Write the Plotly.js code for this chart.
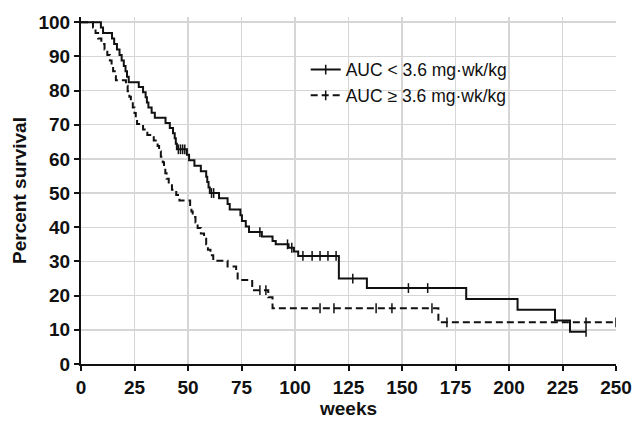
<!DOCTYPE html>
<html><head><meta charset="utf-8">
<script src="https://cdn.plot.ly/plotly-3.0.1.min.js"></script>
<style>html,body{margin:0;padding:0;background:#fff}#chart{width:644px;height:425px}</style>
</head><body><div id="chart"></div>
<script>
// Group 1: AUC < 3.6 mg·wk/kg (solid)
const lowTimes = [0, 9.3, 10.3, 14.5, 15.5, 16.8, 18, 19, 20, 20.8, 21.5, 22.3, 27, 29, 30.2, 30.8, 31.5, 33, 34.5, 39.5, 41.5, 43, 43.8, 44.3, 44.8, 49.5, 50.5, 53, 56, 58.5, 59, 59.6, 60.2, 64.5, 68.5, 69.5, 74.5, 75.2, 77, 78.5, 84.5, 89.5, 91, 97, 99.5, 101.5, 120.5, 133.6, 180, 204, 221.5, 228.5];
const lowSurv  = [100, 98.4, 96.8, 95.2, 93.6, 92.0, 90.4, 88.8, 87.2, 85.6, 84.0, 82.4, 81.0, 79.5, 78.0, 76.5, 75.0, 73.5, 72.0, 70.5, 69.0, 67.5, 66.0, 64.4, 62.8, 61.2, 59.6, 58.0, 56.4, 54.8, 53.2, 51.6, 50.0, 48.5, 46.8, 45.2, 43.5, 41.8, 40.2, 38.6, 37.3, 36.0, 35.0, 34.0, 32.9, 31.6, 25.0, 22.2, 19.0, 15.9, 12.7, 9.4];
const lowEnd = 236;
const lowCensor = [45.5, 46.5, 47.5, 48.5, 61, 62, 83.6, 96.5, 98.5, 103.7, 108, 111.7, 115.4, 119.2, 127, 153, 162, 236];

// Group 2: AUC ≥ 3.6 mg·wk/kg (dashed)
const highTimes = [0, 5.6, 6.8, 8, 9.5, 11, 12.3, 13.5, 14.3, 15, 15.8, 16.3, 21, 21.8, 22.6, 23.3, 24.2, 25, 25.6, 26.2, 29, 31, 34, 35.8, 36.5, 37.3, 38.2, 38.8, 39.4, 40, 41, 42.5, 44.5, 46, 51, 51.6, 52.2, 53.5, 54.5, 56, 57.5, 58.5, 59.3, 60.5, 61.8, 68.5, 72.5, 73.2, 80, 87.5, 89.5, 167];
const highSurv  = [100, 98.4, 96.8, 95.2, 93.6, 92.0, 90.4, 88.8, 87.2, 85.6, 84.2, 83.0, 81.4, 79.8, 78.2, 76.6, 75.0, 73.4, 71.8, 70.2, 68.6, 67.0, 65.4, 63.8, 62.2, 60.6, 59.0, 57.4, 55.8, 54.2, 52.6, 51.0, 49.4, 47.8, 46.2, 44.6, 43.0, 41.4, 39.8, 38.2, 36.6, 35.0, 33.4, 31.8, 30.2, 28.5, 26.8, 24.6, 21.6, 19.5, 16.3, 12.2];
const highEnd = 250;
const highCensor = [83.6, 86.4, 111.7, 118.2, 137.9, 145.3, 164, 171, 236, 250];

const groupNames = ['AUC < 3.6 mg\u00B7wk/kg', 'AUC \u2265 3.6 mg\u00B7wk/kg'];
const xTicks = [0, 25, 50, 75, 100, 125, 150, 175, 200, 225, 250];
const yTicks = [0, 10, 20, 30, 40, 50, 60, 70, 80, 90, 100];

function survAt(times, surv, t) {
  let s = surv[0];
  for (let i = 0; i < times.length; i++) { if (times[i] <= t) s = surv[i]; }
  return s;
}
function stepTrace(times, surv, end, dash) {
  return {
    x: times.concat([end]), y: surv.concat([surv[surv.length - 1]]),
    mode: 'lines', line: {shape: 'hv', color: '#111', width: 2, dash: dash},
    showlegend: false, hoverinfo: 'skip'
  };
}
const censorMarker = {symbol: 'line-ns', size: 7, color: '#111', line: {color: '#111', width: 1.5}};
function censorTrace(times, surv, cens) {
  return {
    x: cens, y: cens.map(t => survAt(times, surv, t)),
    mode: 'markers', showlegend: false, hoverinfo: 'skip', marker: censorMarker
  };
}
function legendTrace(name, dash) {
  return {
    x: [null], y: [null], name: name, mode: 'lines+markers',
    line: {color: '#111', width: 2, dash: dash}, marker: censorMarker
  };
}

const DASH = '7px,4px';
const data = [
  stepTrace(lowTimes, lowSurv, lowEnd, 'solid'),
  stepTrace(highTimes, highSurv, highEnd, DASH),
  censorTrace(lowTimes, lowSurv, lowCensor),
  censorTrace(highTimes, highSurv, highCensor),
  legendTrace(groupNames[0], 'solid'),
  legendTrace(groupNames[1], DASH)
];

const tickFont = {family: 'Liberation Sans, Arial, sans-serif', size: 19, color: '#111', weight: 'bold'};
const titleFont = {family: 'Liberation Sans, Arial, sans-serif', size: 19, color: '#111', weight: 'bold'};
const axisCommon = {
  showgrid: true, gridcolor: '#d6d6d6', gridwidth: 1.5, zeroline: false,
  showline: true, linecolor: '#111', linewidth: 2,
  ticks: 'outside', ticklen: 5, tickwidth: 2, tickcolor: '#111',
  tickfont: tickFont, automargin: false
};
const layout = {
  width: 644, height: 425,
  margin: {l: 81, r: 28, t: 17, b: 61},
  paper_bgcolor: '#fff', plot_bgcolor: '#fff',
  xaxis: Object.assign({}, axisCommon, {range: [0, 250], tickvals: xTicks,
    title: {text: 'weeks', font: titleFont, standoff: 2}}),
  yaxis: Object.assign({}, axisCommon, {range: [0, 101.5], tickvals: yTicks,
    title: {text: 'Percent survival', font: titleFont, standoff: 7}}),
  showlegend: true,
  legend: {x: 0.42, xanchor: 'left', y: 0.9, yanchor: 'top', bgcolor: 'rgba(0,0,0,0)',
    font: {family: 'Liberation Sans, Arial, sans-serif', size: 17.5, color: '#111'},
    tracegroupgap: 0}
};
Plotly.newPlot('chart', data, layout, {staticPlot: true, displayModeBar: false});
</script></body></html>
